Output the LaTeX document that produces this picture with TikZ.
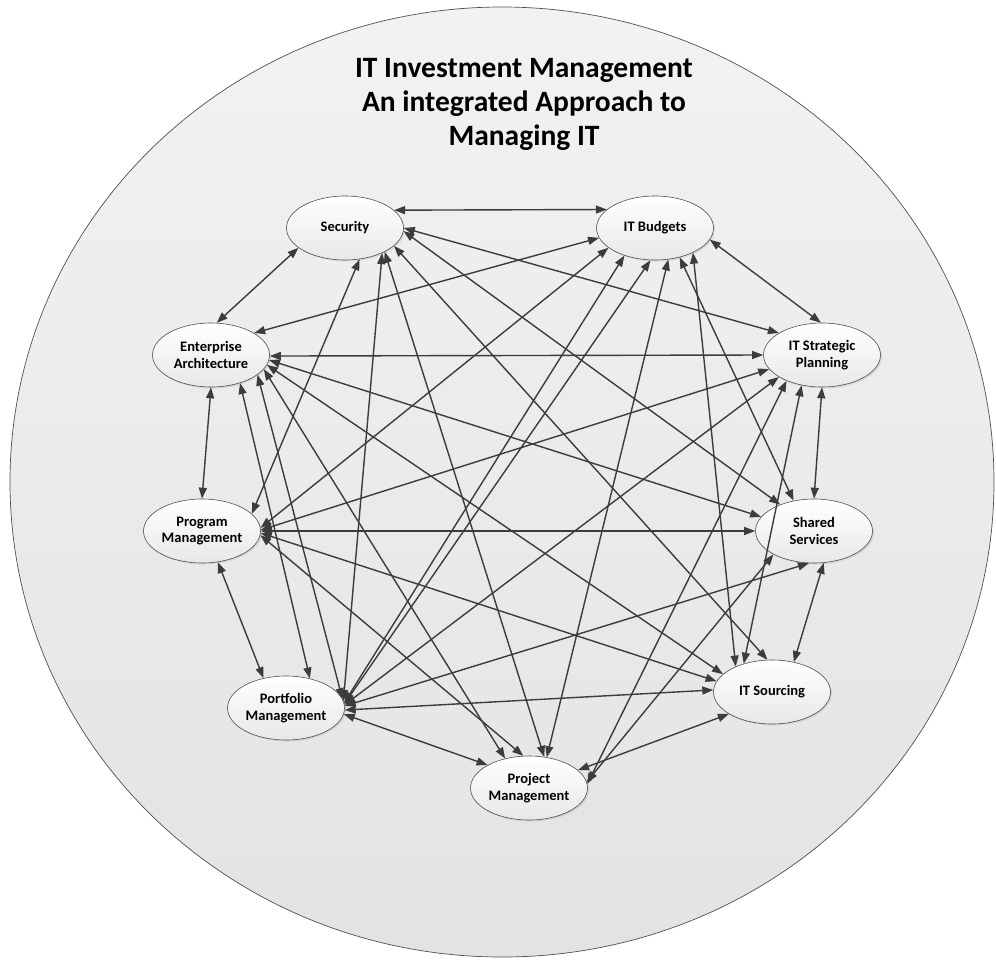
\documentclass[tikz,border=0pt]{standalone}
\usepackage{fontspec}
\setmainfont{Carlito}
\usetikzlibrary{shapes.geometric,arrows.meta,shadows}
\definecolor{linkc}{HTML}{3C3C3C}
\definecolor{rimc}{HTML}{505050}
\begin{document}
\begin{tikzpicture}[x=1pt,y=-1pt,
  nd/.style={ellipse, draw=rimc, line width=0.6pt, top color=white, bottom color=black!9,
    minimum width=117pt, minimum height=64pt, inner sep=0pt, align=center,
    font=\fontsize{14.5}{16.7}\selectfont\bfseries,
    drop shadow={opacity=0.18, shadow xshift=1.5pt, shadow yshift=-1.5pt}},
  lnk/.style={draw=linkc, line width=1.4pt,
    {Triangle[length=11pt,width=8pt]}-{Triangle[length=11pt,width=8pt]}}]
\useasboundingbox (0,0) rectangle (996,959);
\fill[white] (0,0) rectangle (996,959);
\path[draw=rimc, line width=0.7pt, top color=black!5, bottom color=black!11]
  (502,482) ellipse [x radius=492, y radius=475];
\node[font=\fontsize{29.5}{34}\selectfont\bfseries, align=center] (title) at (524,104)
  {IT Investment Management\\An integrated Approach to\\Managing IT};
\node[nd] (S) at (345,228) {Security};
\node[nd] (B) at (655,228) {IT Budgets};
\node[nd] (E) at (211,355) {Enterprise\\Architecture};
\node[nd] (P) at (822,355) {IT Strategic\\Planning};
\node[nd] (G) at (202,531) {Program\\Management};
\node[nd] (H) at (814,531) {Shared\\Services};
\node[nd] (F) at (286,708) {Portfolio\\Management};
\node[nd] (O) at (772,692) {IT Sourcing};
\node[nd] (J) at (529,788) {Project\\Management};
\draw[lnk] (S.20) -- (B.159);
\draw[lnk] (S.-157) -- (E.80);
\draw[lnk] (S.0) -- (P.153);
\draw[lnk] (S.-3) -- (H.142);
\draw[lnk] (S.-20) -- (O.98);
\draw[lnk] (S.-34) -- (F.7);
\draw[lnk] (S.-31) -- (J.64);
\draw[lnk] (S.-65) -- (G.19);
\draw[lnk] (B.-170) -- (E.27);
\draw[lnk] (B.-12) -- (P.92);
\draw[lnk] (B.-157) -- (G.3);
\draw[lnk] (B.-138) -- (F.5);
\draw[lnk] (B.-98) -- (F.4);
\draw[lnk] (B.-67) -- (J.60);
\draw[lnk] (B.-50) -- (H.124);
\draw[lnk] (B.-33) -- (O.145);
\draw[lnk] (E.-1) -- (P.180);
\draw[lnk] (E.-90) -- (G.90);
\draw[lnk] (E.-23) -- (F.9);
\draw[lnk] (E.-44) -- (F.51);
\draw[lnk] (E.-5) -- (H.165);
\draw[lnk] (E.-10) -- (O.160);
\draw[lnk] (E.-15) -- (J.129);
\draw[lnk] (P.-165) -- (G.1);
\draw[lnk] (P.-153) -- (F.3);
\draw[lnk] (P.-144) -- (J.4);
\draw[lnk] (P.-124) -- (O.135);
\draw[lnk] (P.-90) -- (H.90);
\draw[lnk] (G.0) -- (H.180);
\draw[lnk] (G.-2) -- (O.169);
\draw[lnk] (G.-4) -- (J.100);
\draw[lnk] (G.-63) -- (F.127);
\draw[lnk] (H.-99) -- (F.2);
\draw[lnk] (H.-150) -- (J.6);
\draw[lnk] (H.-73) -- (O.54);
\draw[lnk] (F.-2) -- (O.178);
\draw[lnk] (F.-6) -- (J.151);
\draw[lnk] (O.-153) -- (J.20);
\end{tikzpicture}
\end{document}
